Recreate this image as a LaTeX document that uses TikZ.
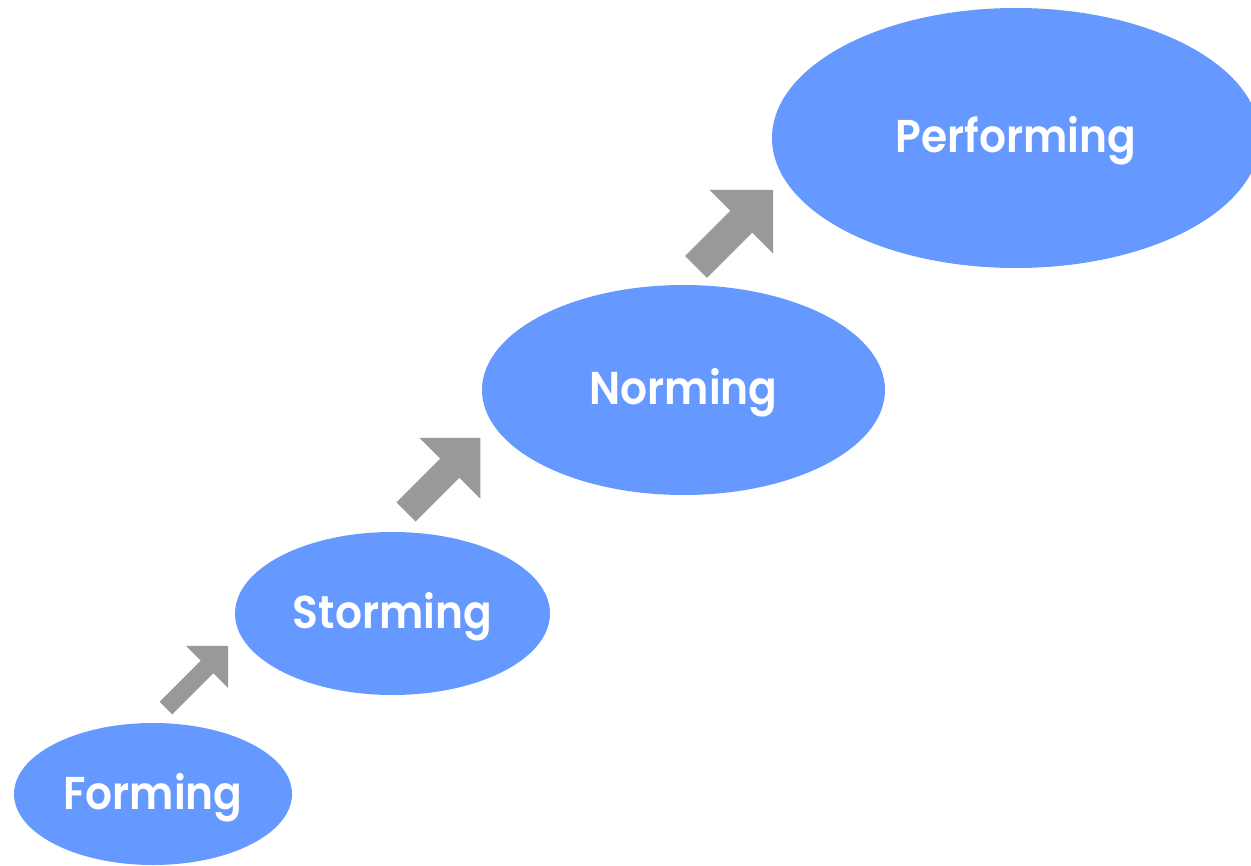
\documentclass[tikz,border=0pt]{standalone}
\usepackage{fontspec}
\newfontfamily\labelfont{Poppins SemiBold}[FakeStretch=0.92]
\usetikzlibrary{shapes.geometric}
\definecolor{stageblue}{RGB}{102,153,255}
\definecolor{arrowgray}{RGB}{153,153,153}
\tikzset{
  stage/.style={ellipse, fill=stageblue, draw=none, inner sep=0pt,
    text height=35pt, text depth=5pt,
    text=white, font=\labelfont\fontsize{46}{50}\selectfont},
  blockarrow/.style={fill=arrowgray, draw=none}
}
% #1 tail centre, #2 length, #3 head half-width, #4 shaft width
\newcommand\diagarrow[4]{%
  \begin{scope}[shift={#1}, rotate=45]
    \fill[blockarrow] (0,-#4/2) -- ({#2-#3},-#4/2) -- ({#2-#3},-#3) -- (#2,0)
      -- ({#2-#3},#3) -- ({#2-#3},#4/2) -- (0,#4/2) -- cycle;
  \end{scope}}
\begin{document}
\begin{tikzpicture}[x=1pt,y=-1pt]
  \useasboundingbox (0,0) rectangle (1251,866);
  \fill[white] (0,0) rectangle (1251,866);
  \begin{scope}
    \clip (0,0) rectangle (1251,866);
    \node[stage, minimum width=278pt, minimum height=142pt] (forming) at (153,794) {Forming};
    \node[stage, minimum width=315pt, minimum height=163pt] (storming) at (392.5,613.5) {Storming};
    \node[stage, minimum width=403pt, minimum height=210pt] (norming) at (683.5,390) {Norming};
    \node[stage, minimum width=488pt, minimum height=260pt] (performing) at (1016,138) {Performing};
  \end{scope}
  \diagarrow{(166,708)}{88}{30}{18}
  \diagarrow{(406,512)}{105}{43}{27}
  \diagarrow{(696,267)}{109}{45}{31}
\end{tikzpicture}
\end{document}
